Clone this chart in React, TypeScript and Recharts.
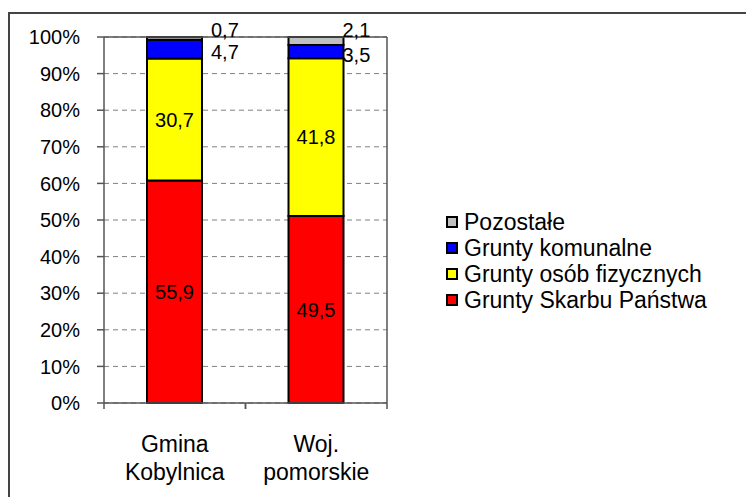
import React from 'react';
import {
  BarChart,
  Bar,
  XAxis,
  YAxis,
  CartesianGrid,
  Legend,
  LabelList,
  ReferenceLine,
} from 'recharts';

const categories = ['Gmina Kobylnica', 'Woj. pomorskie'];
const skarbPanstwa = [55.9, 49.5];
const osobFizycznych = [30.7, 41.8];
const komunalne = [4.7, 3.5];
const pozostale = [0.7, 2.1];
const yTicks = [0, 0.1, 0.2, 0.3, 0.4, 0.5, 0.6, 0.7, 0.8, 0.9, 1];

const seriesNames = {
  skarb: 'Grunty Skarbu Państwa',
  osob: 'Grunty osób fizycznych',
  kom: 'Grunty komunalne',
  poz: 'Pozostałe',
};
const legendOrder = [seriesNames.poz, seriesNames.kom, seriesNames.osob, seriesNames.skarb];

const data = categories.map((name, i) => ({
  name,
  skarb: skarbPanstwa[i],
  osob: osobFizycznych[i],
  kom: komunalne[i],
  poz: pozostale[i],
}));

const FONT = '"Liberation Sans", Arial, sans-serif';
const AXIS = '#555';
const fmt = (v: any) => String(v).replace('.', ',');

const HALF_BAND = 70.75;

const CategoryTick = (props: any) => {
  const { x, y, payload } = props;
  const lines = String(payload.value).split(' ');
  return (
    <g>
      <line x1={x - HALF_BAND} x2={x - HALF_BAND} y1={y} y2={y + 6} stroke={AXIS} strokeWidth={1.5} />
      <line x1={x + HALF_BAND} x2={x + HALF_BAND} y1={y} y2={y + 6} stroke={AXIS} strokeWidth={1.5} />
      <text x={x} y={y + 49} textAnchor="middle" fontFamily={FONT} fontSize={23} fill="#000">
        {lines[0]}
      </text>
      <text x={x} y={y + 77} textAnchor="middle" fontFamily={FONT} fontSize={23} fill="#000">
        {lines[1]}
      </text>
    </g>
  );
};

const dxByIndex = [9, -1];

const TopLabel = (props: any) => {
  const { x, y, width, index, value } = props;
  return (
    <text
      x={x + width + dxByIndex[index]}
      y={y - 7}
      dominantBaseline="central"
      fontFamily={FONT}
      fontSize={20}
      fill="#000"
    >
      {fmt(value)}
    </text>
  );
};

const BlueLabel = (props: any) => {
  const { x, y, width, height, index, value } = props;
  return (
    <text
      x={x + width + dxByIndex[index]}
      y={y + height / 2 + 3}
      dominantBaseline="central"
      fontFamily={FONT}
      fontSize={20}
      fill="#000"
    >
      {fmt(value)}
    </text>
  );
};

const LegendContent = (props: any) => {
  const items = [...(props.payload || [])].sort(
    (a: any, b: any) => legendOrder.indexOf(a.value) - legendOrder.indexOf(b.value)
  );
  return (
    <div style={{ fontFamily: FONT, fontSize: 23, color: '#000' }}>
      {items.map((it: any) => (
        <div key={it.value} style={{ height: 26, display: 'flex', alignItems: 'center', whiteSpace: 'nowrap' }}>
          <span
            style={{
              display: 'inline-block',
              width: 12,
              height: 12,
              boxSizing: 'border-box',
              border: '2px solid #000',
              background: it.color,
              marginRight: 6,
            }}
          />
          <span>{it.value}</span>
        </div>
      ))}
    </div>
  );
};

export default function App() {
  return (
    <div style={{ position: 'absolute', left: 0, top: 0, width: 746, height: 497, background: '#fff', overflow: 'hidden' }}>
      <div
        style={{
          position: 'absolute',
          left: 8,
          top: 12,
          width: 800,
          height: 600,
          borderTop: '2px solid #444',
          borderLeft: '2px solid #444',
        }}
      />
      <div style={{ position: 'absolute', left: 0, top: 0 }}>
        <BarChart
          width={746}
          height={497}
          data={data}
          stackOffset="expand"
          margin={{ top: 37, right: 359, bottom: 34, left: 0 }}
          barSize={55}
        >
          <CartesianGrid vertical={false} stroke="#808080" strokeDasharray="5 4" />
          <XAxis
            dataKey="name"
            height={60}
            tickSize={0}
            tickMargin={0}
            tickLine={false}
            axisLine={{ stroke: AXIS, strokeWidth: 1.5 }}
            tick={<CategoryTick />}
            interval={0}
          />
          <YAxis
            domain={[0, 1]}
            ticks={yTicks}
            width={104}
            tickSize={7}
            tickMargin={17}
            tickFormatter={(v: number) => `${Math.round(v * 100)}%`}
            tick={{ fontFamily: FONT, fontSize: 20, fill: '#000' }}
            tickLine={{ stroke: AXIS, strokeWidth: 1.5 }}
            axisLine={{ stroke: AXIS, strokeWidth: 1.5 }}
          />
          <ReferenceLine y={1} stroke={AXIS} strokeWidth={1.5} />
          <ReferenceLine x={categories[categories.length - 1]} position="end" stroke={AXIS} strokeWidth={1.5} />
          <Legend
            layout="vertical"
            align="center"
            verticalAlign="middle"
            wrapperStyle={{ left: 446, top: 209, width: 'auto', height: 'auto' }}
            content={<LegendContent />}
          />
          <Bar dataKey="skarb" name={seriesNames.skarb} stackId="a" fill="#FF0000" stroke="#000" strokeWidth={2} isAnimationActive={false}>
            <LabelList dataKey="skarb" position="center" formatter={fmt} fill="#000" fontFamily={FONT} fontSize={20} />
          </Bar>
          <Bar dataKey="osob" name={seriesNames.osob} stackId="a" fill="#FFFF00" stroke="#000" strokeWidth={2} isAnimationActive={false}>
            <LabelList dataKey="osob" position="center" formatter={fmt} fill="#000" fontFamily={FONT} fontSize={20} />
          </Bar>
          <Bar dataKey="kom" name={seriesNames.kom} stackId="a" fill="#0000FF" stroke="#000" strokeWidth={2} isAnimationActive={false}>
            <LabelList dataKey="kom" content={<BlueLabel />} />
          </Bar>
          <Bar dataKey="poz" name={seriesNames.poz} stackId="a" fill="#C0C0C0" stroke="#000" strokeWidth={2} isAnimationActive={false}>
            <LabelList dataKey="poz" content={<TopLabel />} />
          </Bar>
        </BarChart>
      </div>
    </div>
  );
}
